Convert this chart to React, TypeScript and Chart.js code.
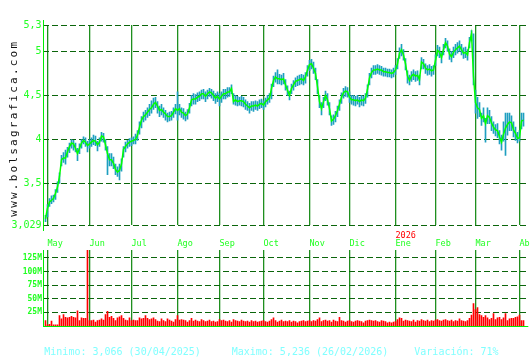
import React, { useEffect, useRef } from 'react';
import { Chart, registerables } from 'chart.js';
Chart.register(...registerables);

const monthLabels = ['May', 'Jun', 'Jul', 'Ago', 'Sep', 'Oct', 'Nov', 'Dic', 'Ene', 'Feb', 'Mar', 'Abr'];
const monthStartIdx = [1, 22, 43, 66, 87, 109, 132, 152, 175, 195, 215, 237];
const priceTicks = [3.029, 3.5, 4, 4.5, 5, 5.3];
const volumeTicks = [25, 50, 75, 100, 125];
const yearLabel = '2026';
const yearLabelMonth = 8;
const watermark = 'www.bolsagrafica.com';
const summaryTexts = ['Minimo: 3,066 (30/04/2025)', 'Maximo: 5,236 (26/02/2026)', 'Variación: 71%'];

const closes = [
  3.10, 3.22, 3.29, 3.31, 3.33, 3.39, 3.46, 3.58, 3.77, 3.79,
  3.79, 3.86, 3.92, 3.96, 3.95, 3.90, 3.84, 3.90, 3.96, 3.99,
  3.97, 3.93, 3.95, 3.97, 3.99, 3.98, 3.94, 3.97, 4.04, 4.03,
  3.94, 3.84, 3.77, 3.77, 3.73, 3.66, 3.63, 3.65, 3.72, 3.89,
  3.92, 3.95, 3.97, 3.98, 3.99, 4.00, 4.05, 4.14, 4.22, 4.26,
  4.28, 4.31, 4.34, 4.36, 4.40, 4.42, 4.38, 4.33, 4.34, 4.31,
  4.29, 4.26, 4.26, 4.27, 4.31, 4.35, 4.33, 4.35, 4.31, 4.30,
  4.27, 4.29, 4.36, 4.45, 4.46, 4.46, 4.48, 4.49, 4.52, 4.52,
  4.49, 4.52, 4.54, 4.53, 4.50, 4.47, 4.49, 4.46, 4.49, 4.52,
  4.52, 4.54, 4.54, 4.58, 4.43, 4.45, 4.43, 4.44, 4.44, 4.43,
  4.40, 4.38, 4.36, 4.38, 4.38, 4.39, 4.38, 4.40, 4.41, 4.39,
  4.43, 4.45, 4.47, 4.58, 4.67, 4.71, 4.69, 4.69, 4.68, 4.69,
  4.62, 4.56, 4.50, 4.58, 4.62, 4.66, 4.67, 4.68, 4.69, 4.67,
  4.71, 4.79, 4.85, 4.86, 4.81, 4.75, 4.60, 4.43, 4.35, 4.43,
  4.50, 4.45, 4.35, 4.21, 4.23, 4.27, 4.33, 4.40, 4.48, 4.53,
  4.55, 4.54, 4.48, 4.45, 4.45, 4.44, 4.45, 4.43, 4.45, 4.44,
  4.47, 4.57, 4.70, 4.76, 4.79, 4.79, 4.80, 4.79, 4.79, 4.77,
  4.77, 4.76, 4.76, 4.75, 4.76, 4.79, 4.86, 4.98, 5.02, 4.96,
  4.86, 4.72, 4.67, 4.72, 4.74, 4.72, 4.73, 4.68, 4.88, 4.86,
  4.81, 4.79, 4.80, 4.78, 4.79, 4.90, 5.01, 4.99, 4.93, 5.02,
  5.10, 5.06, 4.97, 4.94, 4.99, 5.02, 5.04, 5.06, 5.02, 4.98,
  4.99, 4.96, 5.10, 5.20, 4.72, 4.42, 4.36, 4.34, 4.24, 4.27,
  4.18, 4.27, 4.25, 4.19, 4.14, 4.11, 4.10, 4.03, 3.97, 4.06,
  4.13, 4.17, 4.20, 4.19, 4.11, 4.07, 4.01, 4.02, 4.21, 4.22,
];

const highs = [
  3.14, 3.26, 3.33, 3.36, 3.37, 3.43, 3.52, 3.62, 3.82, 3.85,
  3.88, 3.91, 3.96, 4.00, 3.99, 3.96, 3.90, 3.95, 4.00, 4.03,
  4.02, 3.98, 4.00, 4.02, 4.05, 4.04, 3.98, 4.02, 4.08, 4.07,
  4.00, 3.92, 3.84, 3.84, 3.80, 3.72, 3.69, 3.72, 3.78, 3.92,
  3.97, 3.99, 4.01, 4.02, 4.03, 4.06, 4.10, 4.20, 4.26, 4.31,
  4.33, 4.36, 4.40, 4.44, 4.47, 4.48, 4.43, 4.38, 4.40, 4.36,
  4.33, 4.30, 4.31, 4.32, 4.36, 4.40, 4.54, 4.40, 4.36, 4.35,
  4.31, 4.34, 4.41, 4.50, 4.52, 4.51, 4.53, 4.54, 4.56, 4.57,
  4.54, 4.56, 4.58, 4.57, 4.55, 4.52, 4.54, 4.52, 4.54, 4.57,
  4.57, 4.59, 4.59, 4.62, 4.52, 4.50, 4.49, 4.48, 4.49, 4.48,
  4.45, 4.43, 4.41, 4.43, 4.43, 4.44, 4.43, 4.45, 4.46, 4.44,
  4.47, 4.50, 4.52, 4.63, 4.72, 4.76, 4.79, 4.74, 4.73, 4.75,
  4.68, 4.61, 4.55, 4.63, 4.67, 4.70, 4.72, 4.73, 4.74, 4.73,
  4.76, 4.84, 4.90, 4.91, 4.88, 4.81, 4.68, 4.50, 4.42, 4.48,
  4.55, 4.52, 4.42, 4.27, 4.28, 4.32, 4.38, 4.45, 4.53, 4.58,
  4.60, 4.59, 4.54, 4.50, 4.50, 4.49, 4.50, 4.48, 4.50, 4.49,
  4.52, 4.62, 4.75, 4.81, 4.84, 4.84, 4.85, 4.84, 4.83, 4.81,
  4.81, 4.80, 4.80, 4.79, 4.81, 4.84, 4.92, 5.04, 5.08, 5.02,
  4.92, 4.78, 4.73, 4.77, 4.79, 4.77, 4.78, 4.73, 4.93, 4.91,
  4.86, 4.84, 4.85, 4.83, 4.84, 4.96, 5.07, 5.05, 4.99, 5.08,
  5.15, 5.12, 5.03, 5.00, 5.05, 5.08, 5.10, 5.12, 5.08, 5.04,
  5.05, 5.02, 5.16, 5.236, 5.20, 4.56, 4.48, 4.42, 4.30, 4.36,
  4.24, 4.36, 4.33, 4.26, 4.20, 4.17, 4.18, 4.10, 4.05, 4.20,
  4.30, 4.30, 4.30, 4.27, 4.20, 4.14, 4.08, 4.10, 4.30, 4.30,
];

const lows = [
  3.066, 3.12, 3.24, 3.27, 3.29, 3.32, 3.40, 3.50, 3.70, 3.74,
  3.72, 3.80, 3.85, 3.90, 3.88, 3.86, 3.76, 3.84, 3.90, 3.95,
  3.92, 3.86, 3.90, 3.92, 3.94, 3.93, 3.87, 3.92, 3.98, 3.97,
  3.88, 3.60, 3.70, 3.70, 3.67, 3.60, 3.58, 3.54, 3.64, 3.80,
  3.86, 3.90, 3.92, 3.93, 3.95, 3.95, 3.99, 4.06, 4.13, 4.20,
  4.22, 4.25, 4.27, 4.30, 4.34, 4.36, 4.30, 4.26, 4.28, 4.25,
  4.22, 4.20, 4.21, 4.22, 4.25, 4.29, 4.22, 4.28, 4.25, 4.23,
  4.21, 4.23, 4.30, 4.38, 4.40, 4.40, 4.43, 4.44, 4.46, 4.46,
  4.43, 4.46, 4.49, 4.47, 4.44, 4.41, 4.43, 4.38, 4.42, 4.46,
  4.46, 4.48, 4.49, 4.52, 4.40, 4.39, 4.38, 4.39, 4.38, 4.37,
  4.34, 4.33, 4.30, 4.33, 4.32, 4.34, 4.33, 4.35, 4.36, 4.34,
  4.37, 4.40, 4.42, 4.46, 4.60, 4.65, 4.63, 4.63, 4.62, 4.63,
  4.56, 4.50, 4.45, 4.52, 4.56, 4.60, 4.61, 4.62, 4.63, 4.62,
  4.64, 4.72, 4.78, 4.80, 4.75, 4.68, 4.52, 4.36, 4.28, 4.36,
  4.44, 4.39, 4.28, 4.16, 4.17, 4.20, 4.26, 4.33, 4.41, 4.47,
  4.49, 4.48, 4.42, 4.40, 4.39, 4.38, 4.40, 4.37, 4.39, 4.38,
  4.41, 4.48, 4.62, 4.70, 4.74, 4.74, 4.75, 4.74, 4.73, 4.72,
  4.72, 4.71, 4.71, 4.70, 4.71, 4.74, 4.80, 4.92, 4.95, 4.90,
  4.79, 4.64, 4.62, 4.66, 4.68, 4.66, 4.67, 4.62, 4.80, 4.80,
  4.75, 4.73, 4.74, 4.72, 4.74, 4.84, 4.95, 4.93, 4.87, 4.96,
  5.04, 5.00, 4.91, 4.88, 4.93, 4.96, 4.98, 5.00, 4.96, 4.92,
  4.93, 4.90, 5.04, 5.12, 4.62, 4.30, 4.24, 4.26, 4.16, 4.20,
  3.97, 4.18, 4.18, 4.10, 4.07, 4.04, 4.02, 3.95, 3.88, 3.98,
  3.82, 4.05, 4.10, 4.10, 4.03, 3.99, 3.96, 3.98, 4.12, 4.15,
];

// volume in millions
const volumes = [
  10, 2, 3, 9, 2, 2, 2, 19, 13, 21,
  16, 15, 16, 18, 16, 15, 28, 10, 15, 14,
  14, 145, 10, 10, 11, 7, 10, 11, 13, 11,
  21, 27, 16, 18, 14, 10, 15, 17, 19, 14,
  11, 10, 15, 10, 11, 10, 10, 15, 13, 14,
  19, 14, 12, 13, 15, 12, 9, 8, 13, 10,
  8, 13, 11, 9, 7, 12, 19, 11, 12, 11,
  10, 7, 10, 14, 9, 11, 9, 8, 12, 10,
  8, 9, 11, 8, 9, 7, 8, 12, 10, 11,
  9, 8, 10, 7, 12, 10, 9, 8, 11, 9,
  8, 9, 7, 10, 8, 9, 7, 8, 9, 10,
  8, 7, 9, 12, 15, 10, 7, 9, 11, 8,
  9, 8, 10, 7, 9, 8, 6, 8, 9, 10,
  8, 9, 10, 8, 10, 9, 12, 15, 8, 10,
  11, 9, 10, 7, 11, 9, 8, 16, 10, 9,
  7, 9, 10, 8, 7, 9, 10, 9, 8, 6,
  9, 10, 11, 10, 9, 10, 8, 7, 10, 9,
  8, 6, 7, 6, 7, 8, 12, 15, 14, 9,
  11, 10, 9, 8, 11, 7, 10, 9, 12, 10,
  9, 11, 8, 10, 9, 11, 12, 10, 9, 11,
  12, 10, 9, 11, 8, 10, 9, 13, 10, 9,
  8, 10, 14, 20, 41, 30, 34, 21, 19, 16,
  19, 15, 12, 14, 23, 12, 15, 16, 12, 15,
  23, 10, 13, 14, 14, 16, 17, 20, 10, 10,
];

const MONO = '"DejaVu Sans Mono", monospace';
const X_MIN = -1.25;
const X_MAX = 241.4;
const MONTH_LINE = '#1f8f1f';
const DASH_LINE = '#0b650b';
const LABEL_GREEN = '#22ff22';

const pricePlugin = {
  id: 'priceDeco',
  afterDraw(chart: any) {
    const ctx = chart.ctx;
    const area = chart.chartArea;
    const xs = chart.scales.x;
    ctx.save();
    ctx.strokeStyle = '#00ee00';
    ctx.lineWidth = 1;
    ctx.beginPath();
    ctx.moveTo(area.left + 0.5, area.top - 5);
    ctx.lineTo(area.left + 0.5, area.bottom + 6);
    ctx.stroke();
    ctx.fillStyle = '#ff0000';
    ctx.font = `8.5px ${MONO}`;
    ctx.textBaseline = 'middle';
    ctx.textAlign = 'left';
    ctx.fillText(yearLabel, xs.getPixelForValue(monthStartIdx[yearLabelMonth]), 236);
    ctx.translate(16.9, 216.7);
    ctx.rotate(-Math.PI / 2);
    ctx.fillStyle = '#111111';
    ctx.font = `11px ${MONO}`;
    ctx.textBaseline = 'alphabetic';
    for (let k = 0; k < watermark.length; k++) {
      ctx.fillText(watermark[k], k * 8.85, 0);
    }
    ctx.restore();
  },
};

const volumePlugin = {
  id: 'volDeco',
  afterDraw(chart: any) {
    const ctx = chart.ctx;
    const area = chart.chartArea;
    ctx.save();
    ctx.strokeStyle = '#00ee00';
    ctx.lineWidth = 1;
    ctx.beginPath();
    ctx.moveTo(area.left + 0.5, area.top);
    ctx.lineTo(area.left + 0.5, area.bottom + 1);
    ctx.moveTo(area.left, area.bottom + 0.5);
    ctx.lineTo(area.right, area.bottom + 0.5);
    ctx.stroke();
    ctx.fillStyle = '#80ffff';
    ctx.font = `10px ${MONO}`;
    ctx.textBaseline = 'middle';
    ctx.textAlign = 'left';
    const xs = [44.3, 231.7, 414.3];
    summaryTexts.forEach((t, k) => ctx.fillText(t, xs[k], 102.3));
    ctx.restore();
  },
};

export default function App() {
  const priceRef = useRef<HTMLCanvasElement>(null);
  const volRef = useRef<HTMLCanvasElement>(null);

  useEffect(() => {
    const monthGrid = { color: MONTH_LINE, lineWidth: 1.3, drawTicks: false, offset: false };
    const xBase: any = {
      type: 'linear',
      min: X_MIN,
      max: X_MAX,
      offset: false,
      afterBuildTicks: (s: any) => {
        s.ticks = monthStartIdx.map((v) => ({ value: v }));
      },
      grid: monthGrid,
      border: { display: false },
    };

    const priceChart = new Chart(priceRef.current as HTMLCanvasElement, {
      type: 'bar',
      data: {
        datasets: [
          {
            type: 'line',
            data: closes.map((c, i) => ({ x: i, y: c })),
            borderColor: '#00ff00',
            borderWidth: 1.5,
            pointRadius: 0,
            tension: 0,
            order: 0,
          } as any,
          {
            type: 'bar',
            data: closes.map((_, i) => ({ x: i, y: [lows[i], highs[i]] })),
            backgroundColor: '#1e9fc0',
            barThickness: 1,
            order: 1,
          } as any,
        ],
      },
      options: {
        responsive: false,
        animation: false,
        devicePixelRatio: 1,
        layout: { padding: { left: 0, right: 1.7, top: 25, bottom: 0 } },
        plugins: { legend: { display: false }, tooltip: { enabled: false } },
        scales: {
          x: {
            ...xBase,
            afterFit: (s: any) => {
              s.height = 25;
              s.paddingLeft = 0;
              s.paddingRight = 0;
            },
            ticks: {
              autoSkip: false,
              maxRotation: 0,
              minRotation: 0,
              align: 'start',
              padding: 14,
              color: LABEL_GREEN,
              font: { family: MONO, size: 8.5 },
              callback: (_v: any, i: number) => monthLabels[i],
            },
          },
          y: {
            min: 3.029,
            max: 5.3,
            beginAtZero: false,
            afterBuildTicks: (s: any) => {
              s.ticks = priceTicks.map((v) => ({ value: v }));
            },
            afterFit: (s: any) => {
              s.width = 43;
              s.paddingTop = 0;
              s.paddingBottom = 0;
            },
            grid: { color: DASH_LINE, lineWidth: 1, drawTicks: false },
            border: { display: false, dash: [6, 3] },
            ticks: {
              padding: 1.5,
              color: LABEL_GREEN,
              font: { family: MONO, size: 10 },
              callback: (v: any) => String(v).replace('.', ','),
            },
          },
        },
      } as any,
      plugins: [pricePlugin],
    });

    const volChart = new Chart(volRef.current as HTMLCanvasElement, {
      type: 'bar',
      data: {
        datasets: [
          {
            data: volumes.map((v, i) => ({ x: i, y: v })),
            backgroundColor: '#ff0000',
            barThickness: 1,
          } as any,
        ],
      },
      options: {
        responsive: false,
        animation: false,
        devicePixelRatio: 1,
        layout: { padding: { left: 0, right: 1.7, top: 0, bottom: 0 } },
        plugins: { legend: { display: false }, tooltip: { enabled: false } },
        scales: {
          x: {
            ...xBase,
            afterFit: (s: any) => {
              s.height = 34;
              s.paddingLeft = 0;
              s.paddingRight = 0;
            },
            ticks: { display: false },
          },
          y: {
            min: 0,
            max: 139.7,
            afterBuildTicks: (s: any) => {
              s.ticks = volumeTicks.map((v) => ({ value: v }));
            },
            afterFit: (s: any) => {
              s.width = 43;
              s.paddingTop = 0;
              s.paddingBottom = 0;
            },
            grid: { color: DASH_LINE, lineWidth: 1, drawTicks: false },
            border: { display: false, dash: [6, 3] },
            ticks: {
              padding: 1,
              color: LABEL_GREEN,
              font: { family: MONO, size: 8, weight: 'bold' },
              callback: (v: any) => `${v}M`,
            },
          },
        },
      } as any,
      plugins: [volumePlugin],
    });

    return () => {
      priceChart.destroy();
      volChart.destroy();
    };
  }, []);

  return (
    <div style={{ position: 'absolute', left: 0, top: 0, width: 530, height: 360, background: '#ffffff', overflow: 'hidden' }}>
      <canvas ref={priceRef} width={530} height={250} style={{ position: 'absolute', left: 0, top: 0 }} />
      <canvas ref={volRef} width={530} height={110} style={{ position: 'absolute', left: 0, top: 250 }} />
    </div>
  );
}
